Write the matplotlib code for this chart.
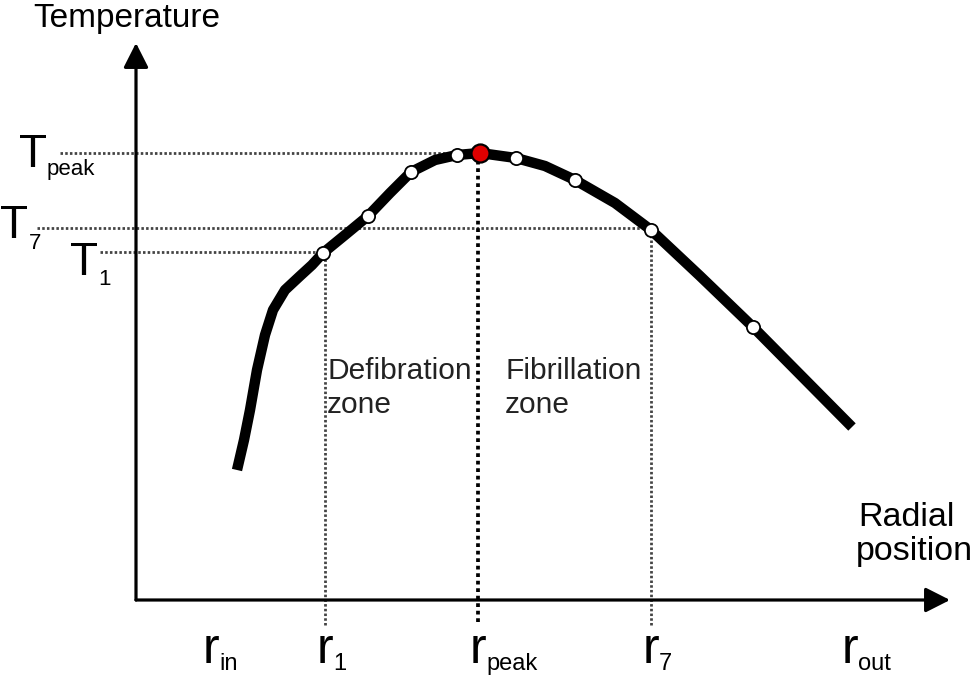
import matplotlib
matplotlib.use("Agg")
import matplotlib.pyplot as plt

plt.rcParams['font.family'] = ['Liberation Sans', 'DejaVu Sans']

# temperature profile along the radius (arbitrary units, origin = axes corner)
curve_r = [101, 108, 114, 121, 129, 137, 149, 164, 176, 187, 209, 232, 254, 275,
           299, 321, 344, 380, 409, 439, 479, 515, 564, 617, 716]
curve_T = [130, 160, 190, 230, 265, 290, 310, 324, 335, 347, 365, 384, 407, 428,
           440, 445, 447, 442, 434, 420, 397, 370, 324, 273, 173]

# measurement points (white) and the peak (red)
pts_r = [187, 232, 275, 321, 380, 439, 515, 617]
pts_T = [347, 384, 428, 445, 442, 420, 370, 273]
peak_r, peak_T = 344, 447

# reference levels: T_peak, T_7, T_1
T_levels = [447, 372, 348]
T_level_start = [-76, -99, -36]
T_level_end = [344, 515, 187]
# r_1, r_peak, r_7
r_levels = [189, 342, 515]
r_level_top = [347, 447, 370]

# tick labels under the radial axis
r_label_pos = [75, 189, 342, 515, 714]
r_label_sub = ['in', '1', 'peak', '7', 'out']

W, H = 973, 678
X0, Y0 = 136, 600   # pixel position of the origin


def px(x, y):
    # pixel -> data
    return x - X0, Y0 - y


fig = plt.figure(figsize=(W / 100, H / 100), dpi=100)
ax = fig.add_axes([0, 0, 1, 1])
ax.set_xlim(-X0, W - X0)
ax.set_ylim(Y0 - H, Y0)
ax.axis('off')

# axes with arrows
arrow = dict(arrowstyle='-|>,head_length=0.75,head_width=0.38', lw=2.3,
             color='black', shrinkA=0, shrinkB=0, mutation_scale=20)
ax.annotate('', xy=px(950, 600), xytext=(0, 0), arrowprops=arrow)
ax.annotate('', xy=px(136, 43), xytext=(0, 0), arrowprops=arrow)

# dotted guides
dots = dict(color='#444444', lw=2.0, dashes=(0.9, 0.8))
for T, x0, x1 in zip(T_levels, T_level_start, T_level_end):
    ax.plot([x0, x1], [T, T], **dots)
bottom = px(0, 625)[1]
ax.plot([r_levels[0], r_levels[0]], [bottom, r_level_top[0]], **dots)
ax.plot([r_levels[2], r_levels[2]], [bottom, r_level_top[2]], **dots)
ax.plot([r_levels[1], r_levels[1]], [px(0, 622)[1], r_level_top[1]],
        color='black', lw=2.7, dashes=(1.0, 1.0))

# profile
ax.plot(curve_r, curve_T, color='black', lw=7.5, solid_capstyle='butt',
        solid_joinstyle='round', zorder=3)
ax.plot(pts_r, pts_T, 'o', ms=9.5, mfc='white', mec='black', mew=1.3, zorder=4)
ax.plot([peak_r], [peak_T], 'o', ms=13, mfc='#e00000', mec='black', mew=1.6,
        zorder=5)

# texts
ax.text(*px(33, 27), 'Temperature', fontsize=24, ha='left', va='baseline')
ax.text(*px(858, 526), 'Radial', fontsize=24.5, ha='left', va='baseline')
ax.text(*px(856, 560), 'position', fontsize=24.5, ha='left', va='baseline')
zone = dict(fontsize=21.5, ha='left', va='baseline', color='#222222')
ax.text(*px(327, 379), 'Defibration', **zone)
ax.text(*px(327, 413), 'zone', **zone)
ax.text(*px(505, 379), 'Fibrillation', **zone)
ax.text(*px(505, 413), 'zone', **zone)

# temperature labels
t_labels = [('peak', 19, 167, 47, 175), ('7', 0, 238, 29, 249), ('1', 70, 275, 98, 285)]
for sub, tx, ty, sx, sy in t_labels:
    ax.text(*px(tx, ty), 'T', fontsize=33, ha='left', va='baseline')
    ax.text(*px(sx, sy), sub, fontsize=16, ha='left', va='baseline')

# radial labels
for r, sub in zip(r_label_pos, r_label_sub):
    ax.text(r, px(0, 663)[1], 'r', fontsize=36, ha='center', va='baseline')
    ax.text(r + 8, px(0, 670)[1], sub, fontsize=17, ha='left', va='baseline')

fig.savefig('out.png', dpi=100)
